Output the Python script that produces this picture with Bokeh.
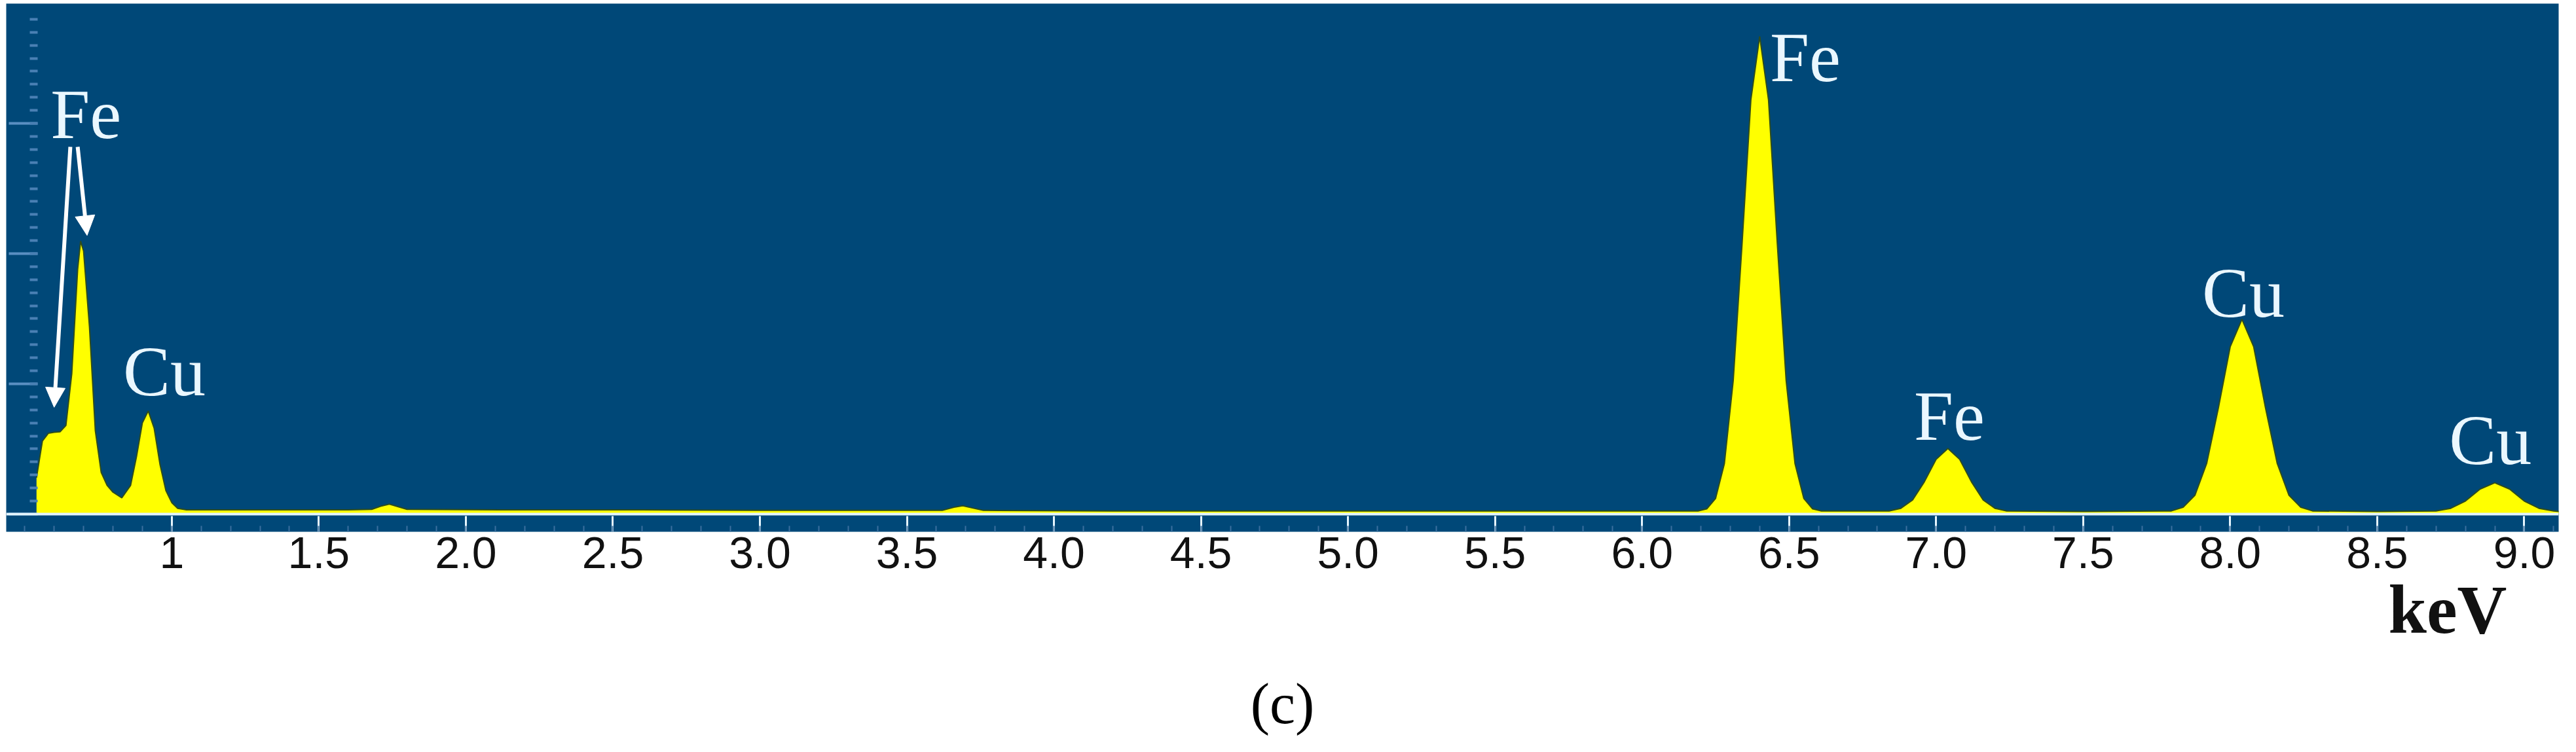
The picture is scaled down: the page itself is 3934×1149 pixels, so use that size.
from bokeh.plotting import figure
from bokeh.models import (Range1d, FixedTicker, Span, Arrow, NormalHead, Title,
                          ColumnDataSource)
from bokeh.core.properties import value
from bokeh.embed import file_html
from bokeh.resources import INLINE

# ---- spectrum (energy in keV, counts in arbitrary units) ----
energy_kev = [
    0.54, 0.55, 0.56, 0.58, 0.60, 0.62, 0.64, 0.66, 0.68, 0.69, 0.70, 0.72, 0.74,
    0.76, 0.78, 0.80, 0.83, 0.86, 0.88, 0.90, 0.92, 0.94, 0.96, 0.98, 1.00, 1.02, 1.05,
    1.30, 1.60, 1.68, 1.71, 1.74, 1.77, 1.80, 2.20, 2.60, 3.00, 3.40, 3.62, 3.66,
    3.69, 3.72, 3.76, 4.20, 4.80, 5.40, 6.00,
    6.19, 6.22, 6.25, 6.28, 6.31, 6.34, 6.37, 6.40, 6.43, 6.46, 6.49, 6.52, 6.55, 6.58, 6.61,
    6.84, 6.88, 6.92, 6.96, 7.00, 7.04, 7.08, 7.12, 7.16, 7.20, 7.24,
    7.50, 7.80, 7.84, 7.88, 7.92, 7.96, 8.00, 8.04, 8.08, 8.12, 8.16, 8.20, 8.24, 8.28,
    8.50, 8.70, 8.75, 8.80, 8.85, 8.90, 8.95, 9.00, 9.05, 9.10, 9.12]
counts = [
    70, 105, 140, 155, 157, 158, 170, 270, 470, 524, 505, 360, 160,
    80, 55, 42, 31, 55, 110, 175, 198, 165, 95, 45, 22, 11, 8,
    8, 8, 9, 15, 19, 14, 9, 8, 8, 7, 7, 7, 13,
    16, 12, 7, 6, 6, 6, 6,
    6, 10, 30, 97, 256, 518, 795, 917, 795, 518, 256, 97, 30, 10, 6,
    6, 11, 27, 62, 105, 126, 105, 62, 27, 11, 6,
    5, 6, 13, 36, 97, 204, 321, 374, 321, 204, 97, 36, 13, 6,
    5, 6, 11, 25, 48, 60, 48, 25, 11, 6, 5]

# ---- axis ticks ----
tick_values = [1.0, 1.5, 2.0, 2.5, 3.0, 3.5, 4.0, 4.5, 5.0, 5.5, 6.0, 6.5, 7.0, 7.5,
               8.0, 8.5, 9.0]
tick_labels = ["1", "1.5", "2.0", "2.5", "3.0", "3.5", "4.0", "4.5", "5.0", "5.5",
               "6.0", "6.5", "7.0", "7.5", "8.0", "8.5", "9.0"]
y_major_ticks = [0, 250, 500, 750]

# ---- peak labels ----
peak_label_text = ["Fe", "Cu", "Fe", "Fe", "Cu", "Cu"]
peak_label_kev = [0.708, 0.975, 6.555, 7.045, 8.045, 8.885]
peak_label_counts = [768, 274, 877, 189, 424, 142]

# ---- arrows from the low-energy Fe label ----
arrow_start_kev = [0.655, 0.680]
arrow_start_counts = [705, 705]
arrow_end_kev = [0.600, 0.712]
arrow_end_counts = [205, 535]

BLUE = "#004878"
YELLOW = "#ffff00"

p = figure(frame_width=3898, frame_height=807,
           x_range=Range1d(0.437, 9.117), y_range=Range1d(-34, 980),
           output_backend="svg", toolbar_location=None,
           min_border_left=9, min_border_right=11, min_border_top=5,
           min_border_bottom=0)
p.background_fill_color = BLUE
p.border_fill_color = "white"
p.outline_line_color = None
p.grid.visible = False

src = ColumnDataSource(dict(x=energy_kev, y=counts))
p.varea(x="x", y1=0, y2="y", source=src, fill_color=YELLOW)
p.line(x="x", y="y", source=src, line_color="#2f4d1c", line_width=2)

p.add_layout(Span(location=0, dimension="width", line_color="#e2f4ff", line_width=4))

# x axis
xa = p.xaxis[0]
xa.ticker = FixedTicker(ticks=tick_values,
                        minor_ticks=[round(0.5 + 0.1 * i, 1) for i in range(0, 87)])
xa.major_label_overrides = {v: t for v, t in zip(tick_values, tick_labels)}
xa.axis_line_color = None
xa.major_tick_in = 24
xa.major_tick_out = 0
xa.major_tick_line_color = "#e6f6ff"
xa.major_tick_line_width = 3
xa.minor_tick_in = 9
xa.minor_tick_out = 0
xa.minor_tick_line_color = "#3b6f9e"
xa.minor_tick_line_width = 2
xa.major_label_text_font = "Liberation Sans"
xa.major_label_text_font_size = "68px"
xa.major_label_text_color = "#111111"
xa.major_label_standoff = 8

# y axis (ticks only, drawn inside the blue area)
ya = p.yaxis[0]
ya.fixed_location = 0.543
ya.ticker = FixedTicker(ticks=y_major_ticks, minor_ticks=[25 * i for i in range(1, 39)])
ya.major_label_text_color = None
ya.major_label_text_font_size = "1px"
ya.axis_line_color = None
ya.major_tick_in = 0
ya.major_tick_out = 44
ya.major_tick_line_color = "#5a8fc2"
ya.major_tick_line_width = 4
ya.minor_tick_in = 0
ya.minor_tick_out = 12
ya.minor_tick_line_color = "#4a80b4"
ya.minor_tick_line_width = 4

# peak labels
lab = ColumnDataSource(dict(x=peak_label_kev, y=peak_label_counts, t=peak_label_text))
p.text(x="x", y="y", text="t", source=lab, text_align="center",
       text_baseline="alphabetic", text_color="#eaf7ff",
       text_font=value("Liberation Serif"), text_font_size="108px")

# arrows
arr = ColumnDataSource(dict(x0=arrow_start_kev, y0=arrow_start_counts,
                            x1=arrow_end_kev, y1=arrow_end_counts))
p.add_layout(Arrow(x_start="x0", y_start="y0", x_end="x1", y_end="y1", source=arr,
                   line_color="white", line_width=6,
                   end=NormalHead(size=30, fill_color="white", line_color="white")))

# keV and (c)
p.add_layout(Title(text="keV", align="left", offset=3638, text_font="Liberation Serif",
                   text_font_size="105px", text_font_style="bold",
                   text_color="#111111", standoff=0), "below")
p.add_layout(Title(text="(c)", align="center", text_font="Liberation Serif",
                   text_font_size="88px", text_font_style="normal",
                   text_color="black", standoff=70), "below")

open("out.html", "w").write(file_html(p, INLINE))
